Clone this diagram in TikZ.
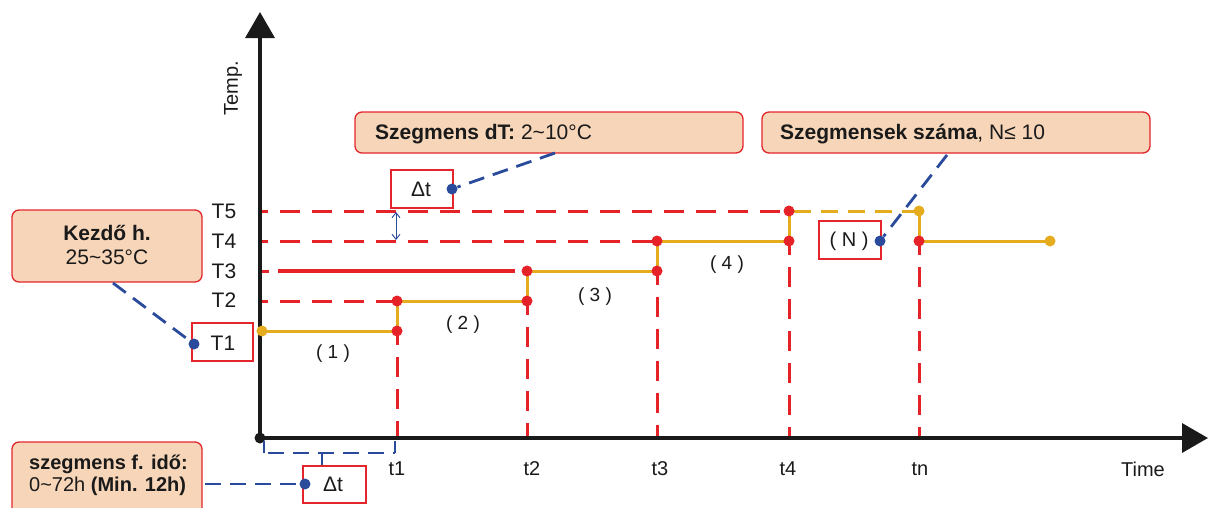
\documentclass[tikz,border=0pt]{standalone}
\usepackage{fontspec}
\setmainfont{Liberation Sans}
\usetikzlibrary{arrows.meta}
\definecolor{cred}{HTML}{E52228}
\definecolor{cyel}{HTML}{E5AC1D}
\definecolor{cblu}{HTML}{2A4B9B}
\definecolor{cpeach}{HTML}{F6D5B8}
\definecolor{cbord}{HTML}{E3262B}
\definecolor{cblack}{HTML}{1A1A1A}
\tikzset{
  axisline/.style={line width=3.5pt, draw=cblack, -{Triangle[length=26pt,width=29pt]}},
  reddash/.style={draw=cred, line width=3pt, dash pattern=on 20pt off 12pt},
  redsolid/.style={draw=cred, line width=3.5pt},
  yelline/.style={draw=cyel, line width=3pt},
  yeldash/.style={draw=cyel, line width=3pt, dash pattern=on 17pt off 10pt},
  bludash/.style={draw=cblu, line width=2.8pt, dash pattern=on 16pt off 9pt},
  blusolid/.style={draw=cblu, line width=2.5pt},
  rdot/.style={circle, fill=cred, inner sep=0pt, minimum size=11pt},
  ydot/.style={circle, fill=cyel, inner sep=0pt, minimum size=11pt},
  bdot/.style={circle, fill=cblu, inner sep=0pt, minimum size=11pt},
  peachbox/.style={draw=cbord, fill=cpeach, line width=1.3pt, rounded corners=7pt, inner sep=0pt},
  whitebox/.style={draw=cbord, fill=white, line width=1.3pt, inner sep=0pt},
  lbl/.style={font=\fontsize{21}{25}\selectfont, text=cblack, inner sep=0pt},
  tlbl/.style={font=\fontsize{20}{24}\selectfont, text=cblack, inner sep=0pt},
  seglbl/.style={font=\fontsize{19}{22}\selectfont, text=cblack, inner sep=0pt},
}
\begin{document}
\begin{tikzpicture}[x=1pt,y=-1pt]
\useasboundingbox (0,0) rectangle (1208,507);

% key points
\coordinate (O) at (260,438);
\coordinate (A0) at (262,331);
\coordinate (A1) at (397,331);
\coordinate (B1) at (397,301);
\coordinate (A2) at (527,301);
\coordinate (B2) at (527,271);
\coordinate (A3) at (657,271);
\coordinate (B3) at (657,241);
\coordinate (A4) at (789,241);
\coordinate (B4) at (789,211);
\coordinate (Y5) at (919,211);
\coordinate (A5) at (919,241);
\coordinate (E) at (1050,241);
\coordinate (L5) at (262,211);
\coordinate (L4) at (262,241);
\coordinate (L3) at (262,271);
\coordinate (L2) at (262,301);

% red dashed guide lines
\draw[reddash, dash phase=14pt] (L5) -- (B4);
\draw[reddash, dash phase=14pt] (L4) -- (B3);
\draw[reddash, dash phase=14pt] (L2) -- (B1);
\coordinate (L3a) at (269,271);
\coordinate (L3b) at (278,271);
\coordinate (L3c) at (515,271);
\draw[redsolid, line width=3pt] (L3) -- (L3a);
\draw[redsolid] (L3b) -- (L3c);

\foreach \p in {A1,A2,A3,A4,A5}
  \draw[reddash, dash phase=6pt] (\p) -- (\p |- O);

% axes
\draw[axisline] (O) -- (260,12);
\draw[axisline] (O) -- (1208,438);
\node[circle, fill=cblack, inner sep=0pt, minimum size=11pt] (orig) at (O) {};

% step profile
\draw[yelline] (A0) -- (A1) -- (B1) -- (A2) -- (B2) -- (A3) -- (B3) -- (A4) -- (B4);
\draw[yeldash, dash phase=-5pt] (B4) -- (Y5);
\draw[yelline] (Y5) -- (A5) -- (E);

\node[ydot] (dA0) at (A0) {};
\node[rdot] (dA1) at (A1) {};
\node[rdot] (dB1) at (B1) {};
\node[rdot] (dA2) at (A2) {};
\node[rdot] (dB2) at (B2) {};
\node[rdot] (dA3) at (A3) {};
\node[rdot] (dB3) at (B3) {};
\node[rdot] (dA4) at (A4) {};
\node[rdot] (dB4) at (B4) {};
\node[ydot] (dY5) at (Y5) {};
\node[rdot] (dA5) at (A5) {};
\node[ydot] (dE) at (E) {};

% dT double arrow
\coordinate (dT1) at (396,212);
\coordinate (dT2) at (396,240);
\draw[draw=cblu, line width=0.9pt, {Straight Barb[length=5pt,width=8pt]}-{Straight Barb[length=5pt,width=8pt]}] (dT1) -- (dT2);

% level labels
\node[lbl] (T5) at (224,211) {T5};
\node[lbl] (T4) at (224,241) {T4};
\node[lbl] (T3) at (224,271) {T3};
\node[lbl] (T2) at (224,300) {T2};
\node[whitebox, minimum width=61pt, minimum height=38pt] (T1box) at (222.5,342) {};
\node[lbl] (T1) at (223,343) {T1};

% time labels
\node[tlbl] (t1) at (397,469) {t1};
\node[tlbl] (t2) at (532,469) {t2};
\node[tlbl] (t3) at (660,469) {t3};
\node[tlbl] (t4) at (788,469) {t4};
\node[tlbl] (tn) at (920,469) {tn};
\node[tlbl] (time) at (1143,469) {Time};
\node[tlbl, rotate=90] (temp) at (233,88) {Temp.};

% segment labels
\node[seglbl] (s1) at (333,354) {( 1 )};
\node[seglbl] (s2) at (463,325) {( 2 )};
\node[seglbl] (s3) at (595,297) {( 3 )};
\node[seglbl] (s4) at (727,265) {( 4 )};

% Kezdo box
\node[peachbox, minimum width=190pt, minimum height=72pt] (kbox) at (107,246) {};
\node[lbl, align=center] (ktext) at (107,245) {\textbf{Kezdő h.}\\[-1pt]25\char"7E 35°C};
\node[bdot] (kdot) at (194,344) {};
\coordinate (kstart) at (113,283);
\draw[bludash] (kstart) -- (kdot);

% dT box
\node[peachbox, minimum width=388pt, minimum height=41pt] (dtbox) at (549,132.5) {};
\node[lbl, anchor=west] (dttext) at (375,134) {\textbf{Szegmens dT:} 2\char"7E 10°C};
\node[whitebox, minimum width=62pt, minimum height=38pt] (dtsmall) at (422,189) {};
\node[lbl] (dtsym) at (421,189) {Δt};
\node[bdot] (dtdot) at (452,189) {};
\coordinate (dtstart) at (555,153);
\draw[bludash] (dtstart) -- (dtdot);

% N box
\node[peachbox, minimum width=388pt, minimum height=41pt] (nbox) at (956,132.5) {};
\node[lbl, anchor=west] (ntext) at (780,134) {\textbf{Szegmensek száma}, N≤ 10};
\node[whitebox, minimum width=62pt, minimum height=38pt] (nsmall) at (850,240) {};
\node[seglbl, font=\fontsize{20}{24}\selectfont] (nsym) at (849,241) {( N )};
\node[bdot] (ndot) at (880,241) {};
\coordinate (nstart) at (947,155);
\draw[bludash] (nstart) -- (ndot);

% duration box
\node[peachbox, minimum width=190pt, minimum height=80pt] (fbox) at (107,482) {};
\node[font=\fontsize{20}{22}\selectfont, text=cblack, inner sep=0pt, align=left, anchor=west] (ftext) at (29,475) {\textbf{szegmens f. idő:}\\0\char"7E 72h \textbf{(Min. 12h)}};
\node[whitebox, minimum width=63pt, minimum height=37pt] (fsmall) at (334.5,484.5) {};
\node[lbl] (fsym) at (333,484) {Δt};
\node[bdot] (fdot) at (305,484) {};
\coordinate (fstart) at (205,484);
\draw[bludash] (fstart) -- (fdot);

% time bracket under axis
\coordinate (br0) at (264,441);
\coordinate (br1) at (264,453);
\coordinate (br2) at (395,453);
\coordinate (br3) at (395,441);
\coordinate (brm) at (322,453);
\draw[blusolid] (br0) -- (br1);
\draw[blusolid] (br3) -- (br2);
\draw[bludash, dash phase=-4pt] (br1) -- (br2);
\draw[blusolid] (brm) -- (fsmall.north -| brm);
\end{tikzpicture}
\end{document}
